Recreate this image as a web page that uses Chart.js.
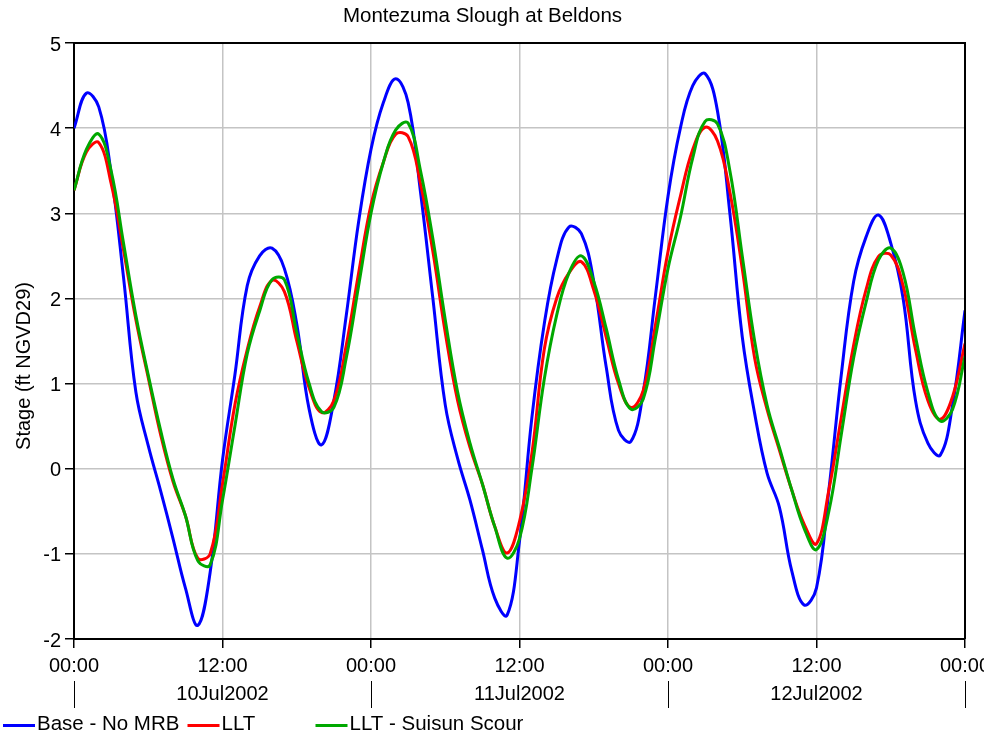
<!DOCTYPE html>
<html>
<head>
<meta charset="utf-8">
<title>Montezuma Slough at Beldons</title>
<script src="https://cdn.jsdelivr.net/npm/chart.js@4.4.0/dist/chart.umd.min.js"></script>
<style>
  html, body { margin: 0; padding: 0; background: #fff; overflow: hidden; }
  #wrap { width: 984px; height: 738px; }
</style>
</head>
<body>
<div id="wrap"><canvas id="stage" width="984" height="738"></canvas></div>
<script>
// hours after 00:00 10Jul2002
const hours = [
  0, 1, 2, 3, 4, 5, 6, 7, 8, 9, 10, 11, 12, 13, 14, 15, 16, 17, 18, 19, 20, 21, 22, 23,
  24, 25, 26, 27, 28, 29, 30, 31, 32, 33, 34, 35, 36, 37, 38, 39, 40, 41, 42, 43, 44, 45, 46, 47,
  48, 49, 50, 51, 52, 53, 54, 55, 56, 57, 58, 59, 60, 61, 62, 63, 64, 65, 66, 67, 68, 69, 70, 71, 72
];

// stage, ft NGVD29 (one value per hour)
const baseNoMrb = [
  4.00, 4.41, 4.25, 3.47, 2.25, 0.90, 0.27, -0.26, -0.82, -1.40, -1.84, -1.22,
  0.10, 1.10, 2.15, 2.50, 2.59, 2.35, 1.70, 0.70, 0.28, 0.80, 1.80, 2.90,
  3.75, 4.30, 4.58, 4.30, 3.25, 2.00, 0.75, 0.12, -0.37, -0.95, -1.52, -1.72,
  -0.85, 0.60, 1.70, 2.45, 2.84, 2.76, 2.20, 1.20, 0.45, 0.32, 0.90, 2.05,
  3.20, 4.00, 4.50, 4.64, 4.20, 3.00, 1.55, 0.65, -0.05, -0.45, -1.20, -1.60,
  -1.40, -0.25, 1.10, 2.20, 2.72, 2.98, 2.65, 2.00, 0.80, 0.30, 0.16, 0.75,
  1.86
];
const llt = [
  3.27, 3.72, 3.83, 3.35, 2.57, 1.75, 1.07, 0.40, -0.15, -0.55, -1.05, -1.00,
  -0.18, 0.75, 1.40, 1.90, 2.21, 2.08, 1.50, 0.95, 0.66, 0.80, 1.45, 2.30,
  3.10, 3.60, 3.93, 3.90, 3.35, 2.55, 1.60, 0.80, 0.25, -0.18, -0.68, -0.99,
  -0.62, 0.18, 1.40, 2.00, 2.30, 2.43, 2.10, 1.55, 1.00, 0.72, 0.92, 1.70,
  2.55, 3.20, 3.75, 4.01, 3.85, 3.25, 2.35, 1.30, 0.70, 0.22, -0.25, -0.65,
  -0.88, -0.25, 0.60, 1.45, 2.10, 2.49, 2.51, 2.15, 1.40, 0.80, 0.58, 0.85,
  1.47
];
const lltSuisun = [
  3.27, 3.75, 3.93, 3.50, 2.65, 1.80, 1.10, 0.45, -0.12, -0.55, -1.08, -1.13,
  -0.37, 0.50, 1.35, 1.85, 2.22, 2.22, 1.60, 1.00, 0.67, 0.72, 1.30, 2.15,
  3.00, 3.60, 3.98, 4.06, 3.50, 2.70, 1.75, 0.90, 0.30, -0.18, -0.68, -1.05,
  -0.82, 0.00, 1.05, 1.80, 2.30, 2.50, 2.20, 1.65, 1.05, 0.70, 0.82, 1.55,
  2.35, 2.95, 3.65, 4.08, 4.05, 3.50, 2.50, 1.50, 0.75, 0.25, -0.25, -0.70,
  -0.95, -0.50, 0.40, 1.30, 1.95, 2.45, 2.59, 2.30, 1.55, 0.90, 0.56, 0.70,
  1.32
];

const seriesNames = ["Base - No MRB", "LLT", "LLT - Suisun Scour"];
const seriesColors = ["#0000ff", "#ff0000", "#00a800"];
const dayLabels = ["10Jul2002", "11Jul2002", "12Jul2002"];

const FONT = "'Liberation Sans', Arial, sans-serif";

function toPoints(values) {
  return values.map((v, i) => ({ x: hours[i], y: v }));
}

// frame, day separators, y title and legend drawn by hand
const decor = {
  id: "decor",
  afterDraw(chart) {
    const ctx = chart.ctx;
    const area = chart.chartArea;
    const xs = chart.scales.x;
    ctx.save();

    // top and right edges of the box
    ctx.strokeStyle = "#000";
    ctx.lineWidth = 2;
    ctx.beginPath();
    ctx.moveTo(area.left, area.top);
    ctx.lineTo(area.right, area.top);
    ctx.lineTo(area.right, area.bottom);
    ctx.stroke();

    // marks between days
    ctx.lineWidth = 1;
    for (let d = 0; d <= dayLabels.length; d++) {
      const px = Math.round(xs.getPixelForValue(d * 24)) + 0.5;
      ctx.beginPath();
      ctx.moveTo(px, 681);
      ctx.lineTo(px, 708);
      ctx.stroke();
    }

    // y axis title
    ctx.fillStyle = "#000";
    ctx.font = "20px " + FONT;
    ctx.textAlign = "center";
    ctx.textBaseline = "middle";
    ctx.translate(24, 366);
    ctx.rotate(-Math.PI / 2);
    ctx.fillText("Stage (ft NGVD29)", 0, 0);
    ctx.setTransform(1, 0, 0, 1, 0, 0);

    // legend
    const legendX = [3, 187.5, 315.5];
    ctx.font = "20.5px " + FONT;
    ctx.textAlign = "left";
    for (let i = 0; i < seriesNames.length; i++) {
      ctx.strokeStyle = seriesColors[i];
      ctx.lineWidth = 3;
      ctx.beginPath();
      ctx.moveTo(legendX[i], 725.5);
      ctx.lineTo(legendX[i] + 32, 725.5);
      ctx.stroke();
      ctx.fillStyle = "#000";
      ctx.fillText(seriesNames[i], legendX[i] + 34, 724);
    }
    ctx.restore();
  },
};

const datasets = [baseNoMrb, llt, lltSuisun].map((values, i) => ({
  label: seriesNames[i],
  data: toPoints(values),
  borderColor: seriesColors[i],
  backgroundColor: seriesColors[i],
  borderWidth: 3,
  pointRadius: 0,
  tension: 0.4,
  fill: false,
  order: 3 - i,
}));

const chart = new Chart(document.getElementById("stage"), {
  type: "line",
  data: { datasets: datasets },
  options: {
    responsive: false,
    animation: false,
    devicePixelRatio: 1,
    layout: { padding: { left: 0, right: 19, top: 0, bottom: 0 } },
    plugins: {
      legend: { display: false },
      tooltip: { enabled: false },
      title: {
        display: true,
        text: "Montezuma Slough at Beldons",
        color: "#000",
        font: { family: FONT, size: 20.5, weight: "normal" },
        padding: { top: 4, bottom: 14.4 },
      },
    },
    scales: {
      x: {
        type: "linear",
        min: 0,
        max: 72,
        afterFit(scale) {
          scale.height = 99;
          scale.paddingLeft = 0;
          scale.paddingRight = 0;
        },
        ticks: {
          stepSize: 12,
          autoSkip: false,
          maxRotation: 0,
          padding: 4,
          color: "#000",
          font: { family: FONT, size: 20, lineHeight: 1.4 },
          callback: function (value) {
            const h = value % 24;
            const label = h === 0 ? "00:00" : "12:00";
            const day = Math.floor(value / 24);
            return [label, h === 12 ? dayLabels[day] : ""];
          },
        },
        grid: {
          color: "#c4c4c4",
          lineWidth: 1.5,
          tickColor: "#000",
          tickLength: 9,
        },
        border: { color: "#000", width: 2 },
      },
      y: {
        min: -2,
        max: 5,
        afterFit(scale) {
          scale.width = 74;
        },
        ticks: {
          stepSize: 1,
          padding: 4,
          labelOffset: 2,
          color: "#000",
          font: { family: FONT, size: 20 },
        },
        grid: {
          color: "#c4c4c4",
          lineWidth: 1.5,
          tickColor: "#000",
          tickLength: 9,
        },
        border: { color: "#000", width: 2 },
      },
    },
  },
  plugins: [decor],
});
</script>
</body>
</html>
